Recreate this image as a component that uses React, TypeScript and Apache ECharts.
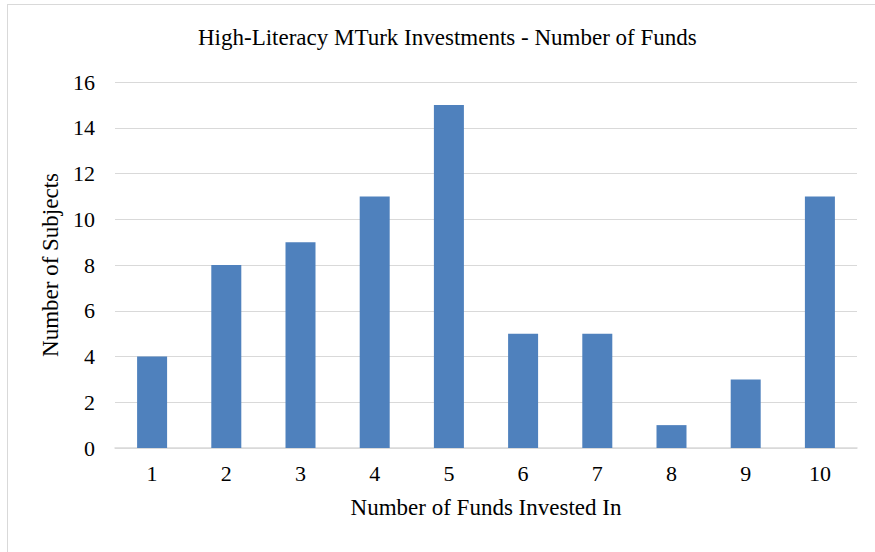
import React, { useEffect, useRef } from "react";
import * as echarts from "echarts";

const categories = ["1", "2", "3", "4", "5", "6", "7", "8", "9", "10"];
const subjects = [4, 8, 9, 11, 15, 5, 5, 1, 3, 11];
const titleText = "High-Literacy MTurk Investments - Number of Funds";
const xName = "Number of Funds Invested In";
const yName = "Number of Subjects";

const FONT = "Liberation Serif";

export default function App() {
  const ref = useRef<HTMLDivElement>(null);
  useEffect(() => {
    if (!ref.current) return;
    const chart = echarts.init(ref.current, undefined, { renderer: "svg" });
    chart.setOption({
      animation: false,
      backgroundColor: "#ffffff",
      textStyle: { fontFamily: FONT },
      title: {
        text: titleText,
        left: 193,
        top: 21,
        textStyle: { fontFamily: FONT, fontSize: 23, fontWeight: "normal", color: "#000000" },
      },
      grid: { left: 115, right: 18, top: 82, bottom: 104, containLabel: false },
      xAxis: {
        type: "category",
        data: categories,
        name: xName,
        nameLocation: "middle",
        nameGap: 48,
        nameTextStyle: { fontFamily: FONT, fontSize: 23, color: "#000000" },
        axisLine: { show: true, lineStyle: { color: "#d9d9d9", width: 1.5 } },
        axisTick: { show: false },
        axisLabel: { fontFamily: FONT, fontSize: 22, color: "#000000", margin: 14 },
      },
      yAxis: {
        type: "value",
        min: 0,
        max: 16,
        interval: 2,
        name: yName,
        nameLocation: "middle",
        nameGap: 50,
        nameTextStyle: { fontFamily: FONT, fontSize: 23, color: "#000000" },
        axisLine: { show: false },
        axisTick: { show: false },
        axisLabel: { fontFamily: FONT, fontSize: 22, color: "#000000", margin: 20 },
        splitLine: { lineStyle: { color: "#d9d9d9", width: 1 } },
      },
      series: [
        {
          type: "bar",
          data: subjects,
          barWidth: 30,
          itemStyle: { color: "#4f81bd" },
        },
      ],
    });
    return () => chart.dispose();
  }, []);
  return (
    <div style={{ position: "fixed", left: 0, top: 0, width: 875, height: 552, background: "#fff" }}>
      <div ref={ref} style={{ position: "absolute", left: 0, top: 0, width: 875, height: 552 }} />
      <div
        style={{
          position: "absolute",
          left: 7,
          top: 4,
          width: 880,
          height: 560,
          borderLeft: "1px solid #d9d9d9",
          borderTop: "1px solid #d9d9d9",
          pointerEvents: "none",
        }}
      />
    </div>
  );
}
